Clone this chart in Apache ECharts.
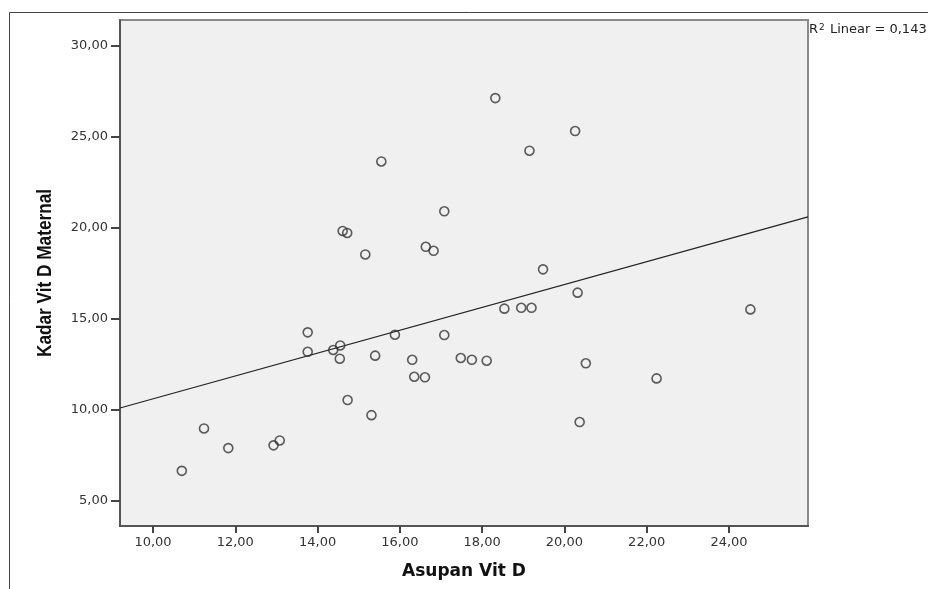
<!DOCTYPE html>
<html lang="id">
  <head>
    <meta charset="UTF-8" />
    <title>Asupan Vit D vs Kadar Vit D Maternal</title>
    <script src="https://cdn.jsdelivr.net/npm/echarts@6.0.0/dist/echarts.min.js"></script>
    <style>
      * {
        padding: 0;
        margin: 0;
      }
      #main {
        width: 928px;
        height: 589px;
        background-color: #ffffff;
      }
    </style>
  </head>
  <body>
    <div id="main"></div>
    <script>
      // data
      var asupanVitD = [
        10.7, 11.24, 11.83, 12.93, 13.08, 13.76, 13.76, 14.38, 14.55, 14.54,
        14.73, 14.61, 14.72, 15.16, 15.31, 15.4, 15.55, 15.88, 16.3, 16.35,
        16.61, 16.63, 16.82, 17.08, 17.08, 17.48, 17.75, 18.11, 18.32, 18.54,
        18.95, 19.15, 19.2, 19.48, 20.26, 20.32, 20.37, 20.52, 22.24, 24.52,
      ];
      var kadarVitD = [
        6.66, 8.99, 7.91, 8.06, 8.33, 14.27, 13.2, 13.3, 13.55, 12.82, 10.55,
        19.84, 19.73, 18.55, 9.72, 12.99, 23.66, 14.14, 12.76, 11.83, 11.8,
        18.97, 18.75, 20.92, 14.12, 12.86, 12.76, 12.71, 27.14, 15.57, 15.62,
        24.25, 15.62, 17.73, 25.33, 16.45, 9.34, 12.57, 11.74, 15.53,
      ];
      var xTicks = [10, 12, 14, 16, 18, 20, 22, 24];
      var yTicks = [5, 10, 15, 20, 25, 30];
      var xMin = 9.198,
        xMax = 25.92;
      var yMin = 3.63,
        yMax = 31.43;
      var r2Text = "0,143";

      var points = asupanVitD.map(function (x, i) {
        return [x, kadarVitD[i]];
      });

      // least squares fit line
      var n = asupanVitD.length;
      var mx = 0,
        my = 0;
      for (var i = 0; i < n; i++) {
        mx += asupanVitD[i];
        my += kadarVitD[i];
      }
      mx /= n;
      my /= n;
      var sxy = 0,
        sxx = 0;
      for (var i = 0; i < n; i++) {
        sxy += (asupanVitD[i] - mx) * (kadarVitD[i] - my);
        sxx += (asupanVitD[i] - mx) * (asupanVitD[i] - mx);
      }
      var slope = sxy / sxx;
      var intercept = my - slope * mx;
      var fitLine = [
        [xMin, intercept + slope * xMin],
        [xMax, intercept + slope * xMax],
      ];

      function comma(v) {
        return v.toFixed(2).replace(".", ",");
      }

      var myChart = echarts.init(document.getElementById("main"));
      var option = {
        backgroundColor: "#ffffff",
        animation: false,
        grid: {
          left: 120,
          right: 120,
          top: 20,
          bottom: 63,
          show: true,
          backgroundColor: "#f0f0f0",
          borderColor: "#8a8a8a",
          borderWidth: 2,
        },
        graphic: [
          {
            type: "rect",
            shape: { x: 9.5, y: 12.5, width: 1000, height: 1000 },
            style: { fill: null, stroke: "#444", lineWidth: 1 },
            silent: true,
          },
          {
            // narrow bold y title, squeezed along its own length
            type: "text",
            x: 45,
            y: 273,
            rotation: Math.PI / 2,
            scaleX: 0.82,
            style: {
              text: "Kadar Vit D Maternal",
              font: "bold 21px 'Liberation Sans', Arial, sans-serif",
              fill: "#111",
              align: "center",
              verticalAlign: "middle",
            },
            silent: true,
          },
          {
            type: "text",
            left: 809,
            top: 23,
            style: {
              text: "{a|R}{s|2}{a| Linear = " + r2Text + "}",
              rich: {
                a: {
                  fontFamily: "DejaVu Sans",
                  fontSize: 13,
                  fill: "#222",
                },
                s: {
                  fontFamily: "DejaVu Sans",
                  fontSize: 9,
                  fill: "#222",
                  verticalAlign: "top",
                  padding: [0, 1, 4, 1],
                },
              },
            },
          },
        ],
        xAxis: {
          type: "value",
          min: xMin,
          max: xMax,
          name: "Asupan Vit D",
          nameLocation: "middle",
          nameGap: 37,
          nameTextStyle: {
            fontFamily: "DejaVu Sans",
            fontWeight: "bold",
            fontSize: 17,
            color: "#111",
          },
          axisLine: {
            show: true,
            onZero: false,
            lineStyle: { color: "#555", width: 2 },
          },
          axisTick: {
            show: true,
            length: 7,
            customValues: xTicks,
            lineStyle: { color: "#444", width: 2 },
          },
          axisLabel: {
            customValues: xTicks,
            margin: 10,
            fontFamily: "DejaVu Sans",
            fontSize: 13,
            color: "#333",
            formatter: comma,
          },
          splitLine: { show: false },
        },
        yAxis: {
          type: "value",
          min: yMin,
          max: yMax,
          axisLine: {
            show: true,
            onZero: false,
            lineStyle: { color: "#555", width: 2 },
          },
          axisTick: {
            show: true,
            length: 9,
            customValues: yTicks,
            lineStyle: { color: "#444", width: 2 },
          },
          axisLabel: {
            customValues: yTicks,
            margin: 12,
            fontFamily: "DejaVu Sans",
            fontSize: 13,
            color: "#333",
            formatter: comma,
          },
          splitLine: { show: false },
        },
        series: [
          {
            name: "fit",
            type: "line",
            data: fitLine,
            symbol: "none",
            silent: true,
            lineStyle: { color: "#222", width: 1.2 },
            z: 2,
          },
          {
            name: "data",
            type: "scatter",
            data: points,
            symbol: "circle",
            symbolSize: 9,
            itemStyle: {
              color: "rgba(0,0,0,0)",
              borderColor: "#333",
              borderWidth: 1.6,
            },
            z: 3,
          },
        ],
      };
      myChart.setOption(option);
    </script>
  </body>
</html>
